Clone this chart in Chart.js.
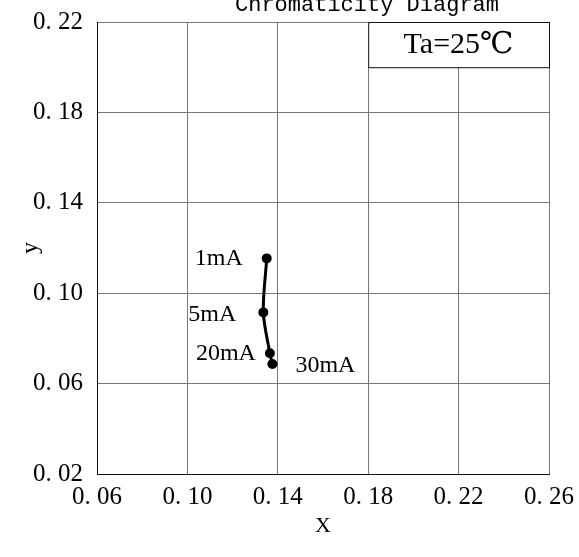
<!DOCTYPE html>
<html>
<head>
<meta charset="utf-8">
<script src="https://cdn.jsdelivr.net/npm/chart.js@4/dist/chart.umd.min.js"></script>
<style>
  html, body { margin: 0; padding: 0; background: #fff; }
  #wrap { width: 579px; height: 557px; }
</style>
</head>
<body>
<div id="wrap"><canvas id="chart" width="579" height="557"></canvas></div>
<script>
// data
const chartTitle = 'Chromaticity Diagram';
const xTickValues = [0.06, 0.10, 0.14, 0.18, 0.22, 0.26];
const xTickLabels = ['0. 06', '0. 10', '0. 14', '0. 18', '0. 22', '0. 26'];
const yTickValues = [0.02, 0.06, 0.10, 0.14, 0.18, 0.22];
const yTickLabels = ['0. 02', '0. 06', '0. 10', '0. 14', '0. 18', '0. 22'];
const currentLabels = ['1mA', '5mA', '20mA', '30mA'];
const xValues = [0.1351, 0.1336, 0.1365, 0.1376];
const yValues = [0.1154, 0.0915, 0.0734, 0.0687];
const legendText = 'Ta=25\u2103';

const serif = '"Liberation Serif", "DejaVu Serif", serif';

// where each current label sits relative to its point (style, not data)
const labelPlacement = [
    { align: 'right', dx: -24, dy: 0 },
    { align: 'right', dx: -27, dy: 2 },
    { align: 'right', dx: -14, dy: 0 },
    { align: 'left', dx: 23, dy: 2 }
];

const points = xValues.map((x, i) => ({ x: x, y: yValues[i] }));

// pas de marge auto des axes : la zone de trace suit layout.padding
function noOverhang(scale) {
    scale.paddingTop = 0;
    scale.paddingBottom = 0;
    scale.paddingLeft = 0;
    scale.paddingRight = 0;
}

// titre, boite de legende et etiquettes des points
const extras = {
    id: 'extras',
    afterDatasetsDraw(chart) {
        const ctx = chart.ctx;
        const xs = chart.scales.x;
        const ys = chart.scales.y;

        // boite Ta=25C
        const bx0 = xs.getPixelForValue(0.18);
        const bx1 = xs.getPixelForValue(0.26);
        const by0 = ys.getPixelForValue(0.22);
        const by1 = ys.getPixelForValue(0.20);
        ctx.save();
        ctx.fillStyle = '#fff';
        ctx.fillRect(bx0, by0, bx1 - bx0, by1 - by0);
        ctx.strokeStyle = '#111';
        ctx.lineWidth = 1;
        ctx.strokeRect(bx0 + 0.5, by0 + 0.5, bx1 - bx0, by1 - by0);
        ctx.fillStyle = '#000';
        ctx.font = '30px ' + serif;
        ctx.textAlign = 'center';
        ctx.textBaseline = 'middle';
        ctx.fillText(legendText, (bx0 + bx1) / 2, (by0 + by1) / 2 + 1);

        // etiquettes
        ctx.font = '24px ' + serif;
        currentLabels.forEach((lab, i) => {
            const p = labelPlacement[i];
            const px = xs.getPixelForValue(xValues[i]);
            const py = ys.getPixelForValue(yValues[i]);
            ctx.textAlign = p.align;
            ctx.fillText(lab, px + p.dx, py + p.dy);
        });

        // titre coupe en haut
        ctx.font = '22px "Liberation Mono", monospace';
        ctx.textAlign = 'center';
        ctx.textBaseline = 'alphabetic';
        ctx.fillText(chartTitle, 367, 11);
        ctx.restore();
    }
};

new Chart(document.getElementById('chart'), {
    type: 'scatter',
    data: {
        datasets: [{
            data: points,
            showLine: true,
            borderColor: '#000',
            backgroundColor: '#000',
            borderWidth: 3,
            pointRadius: 3.5,
            tension: 0.3
        }]
    },
    options: {
        responsive: false,
        animation: false,
        layout: { padding: { top: 22, right: 30, left: 0, bottom: 0 } },
        plugins: {
            legend: { display: false },
            tooltip: { enabled: false }
        },
        scales: {
            x: {
                type: 'linear',
                min: 0.06,
                max: 0.26,
                afterBuildTicks: function(scale) {
                    scale.ticks = xTickValues.map(v => ({ value: v }));
                },
                afterFit: function(scale) {
                    scale.height = 83;
                    noOverhang(scale);
                },
                ticks: {
                    color: '#000',
                    padding: 8,
                    maxRotation: 0,
                    font: { family: serif, size: 25 },
                    callback: function(value) {
                        const i = xTickValues.findIndex(v => Math.abs(v - value) < 1e-6);
                        return i >= 0 ? xTickLabels[i] : '';
                    }
                },
                grid: { color: '#777', lineWidth: 1, drawTicks: false },
                border: { color: '#111', width: 1 },
                title: {
                    display: true,
                    text: 'X',
                    color: '#000',
                    font: { family: serif, size: 22 },
                    padding: { top: 0, bottom: 18 }
                }
            },
            y: {
                type: 'linear',
                min: 0.02,
                max: 0.22,
                afterBuildTicks: function(scale) {
                    scale.ticks = yTickValues.map(v => ({ value: v }));
                },
                afterFit: function(scale) {
                    scale.width = 97;
                    noOverhang(scale);
                },
                ticks: {
                    color: '#000',
                    padding: 14,
                    font: { family: serif, size: 25 },
                    callback: function(value) {
                        const i = yTickValues.findIndex(v => Math.abs(v - value) < 1e-6);
                        return i >= 0 ? yTickLabels[i] : '';
                    }
                },
                grid: { color: '#777', lineWidth: 1, drawTicks: false },
                border: { color: '#111', width: 1 },
                title: {
                    display: true,
                    text: 'y',
                    color: '#000',
                    font: { family: serif, size: 24 },
                    padding: { top: 16, bottom: 0 }
                }
            }
        }
    },
    plugins: [extras]
});
</script>
</body>
</html>
